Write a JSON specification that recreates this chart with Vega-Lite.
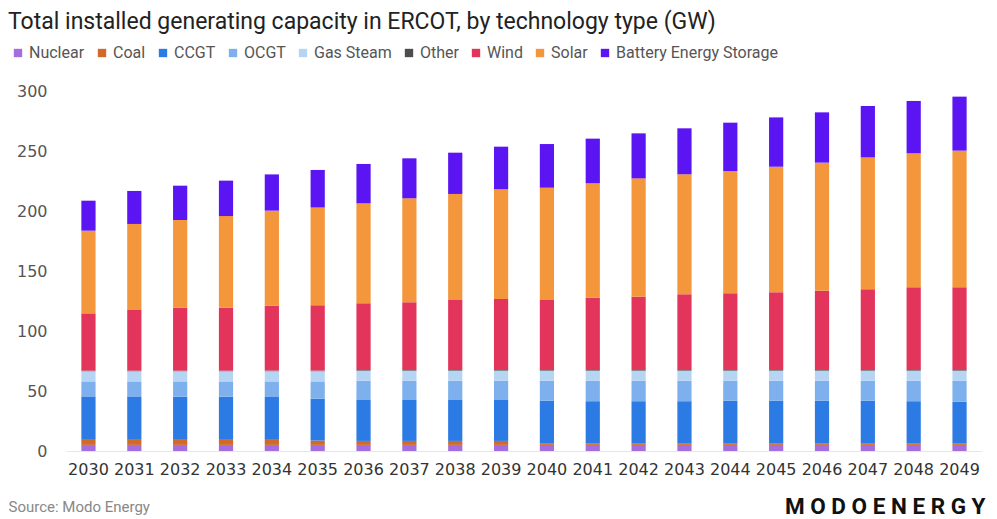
{
  "$schema": "https://vega.github.io/schema/vega-lite/v6.json",
  "autosize": {"type": "none"},
  "width": 916,
  "height": 360,
  "padding": {"left": 66, "top": 91, "right": 15, "bottom": 68},
  "background": "white",
  "title": {
    "text": "Total installed generating capacity in ERCOT, by technology type (GW)",
    "anchor": "start",
    "frame": "group",
    "dx": -58,
    "offset": 11,
    "font": "Roboto",
    "fontSize": 23,
    "fontWeight": "normal",
    "color": "#222222"
  },
  "data": {
    "values": [
      {"year": 2030, "Nuclear": 5.1, "Coal": 4.2, "CCGT": 36.2, "OCGT": 12.5, "Gas Steam": 8.5, "Other": 0.5, "Wind": 47.7, "Solar": 68.9, "Battery Energy Storage": 25.0},
      {"year": 2031, "Nuclear": 5.1, "Coal": 4.2, "CCGT": 36.2, "OCGT": 12.5, "Gas Steam": 8.5, "Other": 0.5, "Wind": 50.5, "Solar": 71.7, "Battery Energy Storage": 27.5},
      {"year": 2032, "Nuclear": 5.1, "Coal": 4.2, "CCGT": 36.0, "OCGT": 12.7, "Gas Steam": 8.5, "Other": 0.5, "Wind": 52.4, "Solar": 73.1, "Battery Energy Storage": 28.6},
      {"year": 2033, "Nuclear": 5.1, "Coal": 4.2, "CCGT": 36.0, "OCGT": 12.7, "Gas Steam": 8.5, "Other": 0.5, "Wind": 52.4, "Solar": 76.4, "Battery Energy Storage": 29.5},
      {"year": 2034, "Nuclear": 5.1, "Coal": 4.2, "CCGT": 35.7, "OCGT": 13.0, "Gas Steam": 8.5, "Other": 0.5, "Wind": 54.1, "Solar": 79.2, "Battery Energy Storage": 30.2},
      {"year": 2035, "Nuclear": 5.1, "Coal": 3.6, "CCGT": 34.8, "OCGT": 14.5, "Gas Steam": 8.5, "Other": 0.5, "Wind": 54.4, "Solar": 81.5, "Battery Energy Storage": 31.3},
      {"year": 2036, "Nuclear": 5.1, "Coal": 3.3, "CCGT": 34.6, "OCGT": 15.5, "Gas Steam": 8.5, "Other": 0.5, "Wind": 55.6, "Solar": 83.3, "Battery Energy Storage": 32.8},
      {"year": 2037, "Nuclear": 5.1, "Coal": 3.3, "CCGT": 34.6, "OCGT": 15.5, "Gas Steam": 8.5, "Other": 0.5, "Wind": 56.4, "Solar": 86.7, "Battery Energy Storage": 33.3},
      {"year": 2038, "Nuclear": 5.1, "Coal": 3.3, "CCGT": 34.6, "OCGT": 15.5, "Gas Steam": 8.5, "Other": 0.5, "Wind": 58.3, "Solar": 88.4, "Battery Energy Storage": 34.4},
      {"year": 2039, "Nuclear": 5.1, "Coal": 3.3, "CCGT": 34.6, "OCGT": 15.5, "Gas Steam": 8.5, "Other": 0.5, "Wind": 59.2, "Solar": 91.4, "Battery Energy Storage": 35.5},
      {"year": 2040, "Nuclear": 5.1, "Coal": 1.0, "CCGT": 35.9, "OCGT": 16.5, "Gas Steam": 8.5, "Other": 0.5, "Wind": 58.3, "Solar": 93.6, "Battery Energy Storage": 36.4},
      {"year": 2041, "Nuclear": 5.1, "Coal": 1.0, "CCGT": 35.4, "OCGT": 17.0, "Gas Steam": 8.5, "Other": 0.5, "Wind": 60.3, "Solar": 95.3, "Battery Energy Storage": 37.2},
      {"year": 2042, "Nuclear": 5.1, "Coal": 1.0, "CCGT": 35.4, "OCGT": 17.0, "Gas Steam": 8.5, "Other": 0.5, "Wind": 61.1, "Solar": 98.6, "Battery Energy Storage": 37.5},
      {"year": 2043, "Nuclear": 5.1, "Coal": 1.0, "CCGT": 35.4, "OCGT": 17.0, "Gas Steam": 8.5, "Other": 0.5, "Wind": 63.1, "Solar": 100.0, "Battery Energy Storage": 38.3},
      {"year": 2044, "Nuclear": 5.1, "Coal": 1.0, "CCGT": 35.9, "OCGT": 16.5, "Gas Steam": 8.5, "Other": 0.5, "Wind": 63.9, "Solar": 101.9, "Battery Energy Storage": 40.3},
      {"year": 2045, "Nuclear": 5.1, "Coal": 1.0, "CCGT": 35.9, "OCGT": 16.5, "Gas Steam": 8.5, "Other": 0.5, "Wind": 64.7, "Solar": 104.7, "Battery Energy Storage": 41.1},
      {"year": 2046, "Nuclear": 5.1, "Coal": 1.0, "CCGT": 35.9, "OCGT": 16.5, "Gas Steam": 8.5, "Other": 0.5, "Wind": 66.1, "Solar": 106.7, "Battery Energy Storage": 41.9},
      {"year": 2047, "Nuclear": 5.1, "Coal": 1.0, "CCGT": 35.9, "OCGT": 16.5, "Gas Steam": 8.5, "Other": 0.5, "Wind": 67.2, "Solar": 110.0, "Battery Energy Storage": 42.8},
      {"year": 2048, "Nuclear": 5.1, "Coal": 1.0, "CCGT": 35.4, "OCGT": 17.0, "Gas Steam": 8.5, "Other": 0.5, "Wind": 68.9, "Solar": 111.6, "Battery Energy Storage": 43.7},
      {"year": 2049, "Nuclear": 5.1, "Coal": 1.0, "CCGT": 34.9, "OCGT": 17.5, "Gas Steam": 8.5, "Other": 0.5, "Wind": 68.9, "Solar": 113.9, "Battery Energy Storage": 45.0}
    ]
  },
  "transform": [
    {"fold": ["Nuclear", "Coal", "CCGT", "OCGT", "Gas Steam", "Other", "Wind", "Solar", "Battery Energy Storage"], "as": ["technology", "gw"]},
    {"window": [{"op": "row_number", "as": "stack_index"}], "groupby": ["year"]}
  ],
  "mark": {"type": "bar"},
  "encoding": {
    "x": {
      "field": "year",
      "type": "ordinal",
      "scale": {"paddingInner": 0.69, "paddingOuter": 0.335},
      "axis": {
        "labelAngle": 0,
        "labelFont": "DejaVu Sans",
        "labelFontSize": 16,
        "labelColor": "#333333",
        "labelPadding": 10,
        "ticks": false,
        "domain": true,
        "domainColor": "#e6e6e6",
        "title": "Source: Modo Energy",
        "titleFont": "Roboto",
        "titleFontSize": 15,
        "titleFontWeight": "normal",
        "titleColor": "#888888",
        "titleAnchor": "start",
        "titleAlign": "left",
        "titleBaseline": "middle",
        "titleX": -58,
        "titleY": 55
      }
    },
    "y": {
      "field": "gw",
      "type": "quantitative",
      "stack": "zero",
      "scale": {"domain": [0, 300]},
      "axis": {
        "values": [0, 50, 100, 150, 200, 250, 300],
        "grid": false,
        "domain": false,
        "ticks": false,
        "labelFont": "DejaVu Sans",
        "labelFontSize": 16,
        "labelColor": "#555555",
        "labelPadding": 19,
        "title": "M O D O E N E R G Y",
        "titleAngle": 0,
        "titleFont": "Roboto",
        "titleFontSize": 22.5,
        "titleFontWeight": "bold",
        "titleColor": "#111111",
        "titleAlign": "right",
        "titleBaseline": "middle",
        "titleX": 919,
        "titleY": 415
      }
    },
    "color": {
      "field": "technology",
      "type": "nominal",
      "sort": ["Nuclear", "Coal", "CCGT", "OCGT", "Gas Steam", "Other", "Wind", "Solar", "Battery Energy Storage"],
      "scale": {
        "domain": ["Nuclear", "Coal", "CCGT", "OCGT", "Gas Steam", "Other", "Wind", "Solar", "Battery Energy Storage"],
        "range": ["#a46ee0", "#d0692a", "#2c7be5", "#7eb0ee", "#b6d5f5", "#4d4d4d", "#e3345c", "#f4963b", "#5b14f2"]
      },
      "legend": {
        "orient": "none",
        "legendX": -56,
        "legendY": -46,
        "direction": "horizontal",
        "title": null,
        "symbolType": "square",
        "symbolSize": 70,
        "symbolStrokeWidth": 0,
        "labelFont": "Roboto",
        "labelFontSize": 16,
        "labelLimit": 300,
        "labelColor": "#555555",
        "labelOffset": 3,
        "columnPadding": 9
      }
    },
    "order": {"field": "stack_index", "type": "quantitative"}
  },
  "config": {
    "view": {"stroke": null}
  }
}
